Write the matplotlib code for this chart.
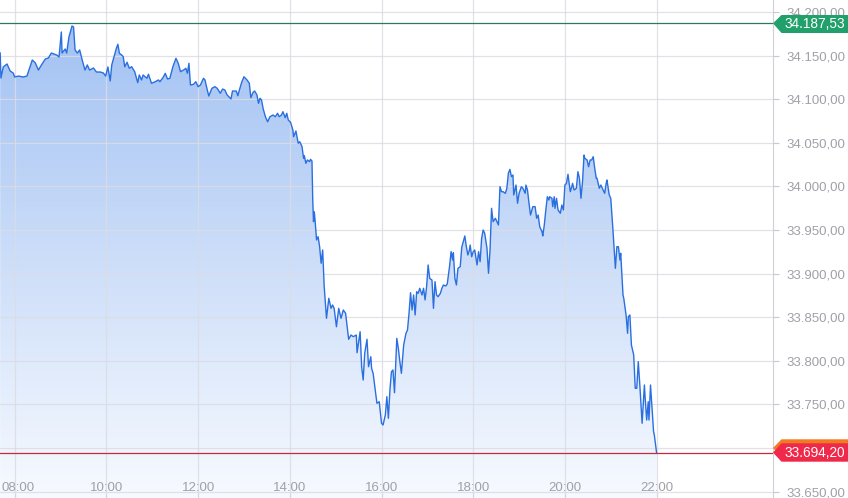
import numpy as np
import matplotlib
matplotlib.use("Agg")
import matplotlib.pyplot as plt
from matplotlib.patches import Polygon
from matplotlib.transforms import blended_transform_factory

plt.rcParams["font.family"] = ["Liberation Sans", "DejaVu Sans"]

# intraday index level, minutes after 08:00 -> price
minutes = [
    -19, -18, -15, -10, -6, -2, 0, 5, 11, 16, 20, 23, 27, 31, 35, 40, 44, 48, 55, 58,
    61, 62, 66, 68, 71, 75, 77, 79, 82, 85, 89, 92, 95, 98, 103, 107, 112, 116, 119, 122, 125,
    127, 130, 133, 135, 137, 140, 142, 144, 147, 150, 153, 157, 161, 163, 166, 168, 173, 175,
    179, 184, 188, 190, 194, 197, 200, 203, 207, 211, 214, 217, 221, 224, 226, 228, 230, 234,
    237, 240, 243, 247, 249, 252, 254, 258, 262, 265, 269,
    272, 275, 278, 283, 285, 290, 292, 294, 297, 300, 304, 307, 309, 312, 314, 317, 319, 321,
    323, 325, 328, 331, 334, 338, 341, 344, 346, 349, 351, 354, 356, 358, 361, 364, 365, 368,
    371, 373, 376, 378, 379, 381, 383, 386, 387, 389,
    390, 391, 392, 393, 395, 397, 399, 401, 403, 405, 408, 411, 414, 416, 418, 421, 424, 427,
    430, 433, 435, 437, 440, 443, 447, 448, 452, 454, 456, 458, 461, 463, 464, 466, 467, 469,
    471, 474, 477, 480, 482, 485, 487, 489, 491, 493, 495, 497, 500, 502, 504, 506, 509, 512,
    514, 516, 518, 520, 522, 524, 526, 528, 530, 533, 535, 537, 539, 541, 543, 546, 548, 550,
    552, 554, 557,
    559, 561, 564, 566, 569, 571, 573, 574, 576, 578, 580, 583, 585, 587, 589, 591, 593, 595,
    596, 598, 600, 602, 605, 607, 609, 611, 613, 615, 618, 620, 622, 624, 626, 629, 631, 633,
    635, 637, 639, 642, 644, 646, 648, 650, 652, 653, 656, 658, 660, 663, 665, 668, 669, 671,
    673, 675, 678, 681, 683, 685, 687, 690, 691, 693, 695, 697, 699, 700,
    703, 704, 706, 707, 709, 711, 714, 716, 718, 720, 722, 724, 727, 729, 730, 732, 735, 737,
    739, 741, 743, 745, 746, 749, 751, 753, 755, 757, 759, 761, 762, 765, 767, 769, 772, 774,
    775, 778, 780, 782, 783, 786, 788, 790, 792, 793, 796, 797, 800, 802, 803, 805, 807, 810,
    812, 814, 816, 818, 821, 824, 825, 827, 829, 830, 832, 834, 836, 837, 840,
]
prices = [
    34153.0, 34124.3, 34137.0, 34140.4, 34132.4, 34130.1, 34125.5, 34126.6, 34125.5, 34126.6,
    34137.0, 34145.0, 34141.6, 34133.5, 34139.3, 34146.1, 34147.3, 34153.0, 34150.7, 34148.4,
    34177.1, 34153.0, 34157.6, 34153.0, 34171.4, 34184.0, 34182.8, 34156.5, 34153.0, 34156.5,
    34142.7, 34133.5, 34139.3, 34133.5, 34135.8, 34131.2, 34131.2, 34130.1, 34126.6, 34137.0,
    34121.0,
    34139.3, 34148.8, 34158.4, 34163.0, 34152.7, 34150.7, 34148.8, 34137.3, 34142.4, 34135.5,
    34137.3, 34131.6, 34119.0, 34127.8, 34122.1, 34127.8, 34124.0, 34128.6, 34118.3, 34120.1,
    34122.1, 34120.1, 34124.7, 34129.7, 34123.2, 34124.0, 34137.3, 34146.9, 34141.2, 34131.6,
    34133.5, 34135.5, 34129.7, 34141.2, 34116.3, 34117.1, 34120.1, 34114.4, 34116.3, 34124.0,
    34122.1, 34110.6, 34103.7, 34112.5, 34114.4, 34112.5, 34106.8,
    34111.7, 34110.6, 34104.9, 34100.3, 34109.4, 34109.4, 34104.0, 34110.6, 34119.4, 34125.8,
    34122.1, 34118.3, 34101.8, 34108.0, 34109.4, 34104.9, 34095.3, 34101.1, 34099.1, 34089.6,
    34080.0, 34074.2, 34080.0, 34081.9, 34080.0, 34083.9, 34080.0, 34081.9, 34085.7, 34078.8,
    34083.9, 34076.2, 34073.5, 34064.7, 34057.0, 34063.6, 34049.5, 34051.3, 34045.6, 34032.3,
    34035.2, 34026.5, 34030.3, 34028.4, 34031.1, 34029.2,
    33984.4, 33959.6, 33971.0, 33961.5, 33938.6, 33942.4, 33930.9, 33911.9, 33927.1, 33885.0,
    33848.8, 33871.7, 33860.2, 33864.0, 33860.2, 33839.1, 33860.2, 33848.8, 33858.3, 33854.5,
    33839.1, 33824.7, 33829.6, 33827.7, 33829.6, 33809.3, 33833.4, 33793.3, 33778.0, 33808.6,
    33824.7, 33793.3, 33797.2, 33804.7, 33791.4, 33785.7, 33772.3, 33751.3, 33753.1, 33728.4,
    33726.4, 33737.9, 33758.9, 33734.1, 33766.5, 33787.5, 33789.5, 33763.4, 33825.8, 33814.4,
    33799.0, 33785.7, 33818.2, 33831.6, 33835.4, 33854.5, 33878.1, 33858.3, 33875.5, 33852.6,
    33879.3, 33877.4, 33883.2, 33875.5, 33883.2, 33869.8, 33885.0, 33909.9, 33894.6, 33892.7,
    33860.2, 33890.8, 33875.5, 33873.5, 33877.4,
    33883.2, 33887.0, 33885.8, 33888.1, 33908.0, 33925.2, 33915.6, 33924.0, 33894.6, 33887.0,
    33906.1, 33908.0, 33930.2, 33936.6, 33943.2, 33930.9, 33921.4, 33927.1, 33932.8, 33919.4,
    33925.2, 33927.1, 33909.9, 33925.2, 33913.7, 33940.5, 33950.0, 33946.3, 33929.1, 33900.4,
    33927.1, 33974.9, 33959.6, 33963.5, 33959.6, 33955.8, 33999.7, 33994.0, 33994.0, 33992.1,
    33997.9, 34015.1, 34019.6, 34011.2, 34013.1, 33990.2, 34001.6, 33980.7, 33992.1, 33999.7,
    33997.9, 33992.1, 34001.6, 33995.9, 33980.7, 33967.2, 33976.8, 33976.8, 33963.5, 33967.2,
    33953.8, 33948.1, 33943.2, 33955.8, 33973.0, 33988.2, 33984.4, 33988.2,
    33986.4, 33976.8, 33988.2, 33974.9, 33986.4, 33973.0, 33969.2, 33978.7, 33973.0, 34001.6,
    34003.6, 34013.9, 33994.0, 33999.7, 34003.6, 33995.9, 33997.9, 34016.9, 34009.3, 33986.4,
    34005.4, 34036.0, 34032.3, 34030.3, 34022.6, 34030.3, 34030.3, 34034.1, 34020.8, 34009.3,
    34009.3, 33997.9, 34001.6, 33997.9, 33992.1, 34003.6, 34007.4, 33990.2, 33986.4, 33961.5,
    33948.1, 33906.1, 33930.9, 33930.9, 33915.6, 33923.3, 33875.5, 33871.7, 33852.6, 33831.6,
    33850.6, 33852.6, 33818.2, 33806.7, 33768.5, 33768.5, 33799.0, 33772.3, 33728.4, 33772.3,
    33757.0, 33732.1, 33753.1, 33732.1, 33772.3, 33745.6, 33718.7, 33714.9, 33694.2,
]

high_price = 34187.53
last_price = 33694.20
x_hours = [8, 10, 12, 14, 16, 18, 20, 22]
x_labels = ["08:00", "10:00", "12:00", "14:00", "16:00", "18:00", "20:00", "22:00"]
y_ticks = [34200, 34150, 34100, 34050, 34000, 33950, 33900, 33850, 33800, 33750, 33700, 33650]
hidden_y = [33700]  # sits under the last-price tag

W, H = 848, 498
XLO, XHI = 7.6793, 24.538
YLO, YHI = 33642.7, 34213.8

GRID = "#dcdce3"
LABEL = "#a0a0a8"


def de_fmt(v):
    return f"{v:,.2f}".replace(",", "X").replace(".", ",").replace("X", ".")


def fx(x, y):
    # pixel coords -> figure fraction
    return (x / W, 1 - y / H)


fig = plt.figure(figsize=(W / 100, H / 100), dpi=100)
fig.patch.set_facecolor("white")
ax = fig.add_axes([0, 0, 773 / W, 1])
ax.set_facecolor("white")

hours = 8 + np.array(minutes) / 60.0
vals = np.array(prices)

# gradient area under the line
poly = ax.fill_between(hours, vals, YLO, facecolor="none", edgecolor="none")
top = np.array([158, 191, 242]) / 255
bot = np.array([247, 250, 255]) / 255
t = np.linspace(0, 1, 256).reshape(-1, 1, 1)
img = bot + (top - bot) * t
im = ax.imshow(img, extent=[XLO, XHI, YLO, YHI], aspect="auto", origin="lower", zorder=1)
im.set_clip_path(poly.get_paths()[0], transform=ax.transData)

for v in y_ticks:
    ax.axhline(v, color=GRID, lw=0.9, zorder=2, alpha=0.85)
for h in x_hours:
    ax.axvline(h, color=GRID, lw=0.9, zorder=2, alpha=0.85)

ax.plot(hours, vals, color="#2a6fe0", lw=1.0, zorder=3)

ax.axhline(high_price, color="#2b7a58", lw=0.9, zorder=4)
ax.axhline(last_price, color="#c8283c", lw=0.9, zorder=4)

ax.set_xlim(XLO, XHI)
ax.set_ylim(YLO, YHI)

for s in ("top", "left", "bottom"):
    ax.spines[s].set_visible(False)
ax.spines["right"].set_color("#d0d0d8")
ax.spines["right"].set_linewidth(0.8)

ax.yaxis.tick_right()
ax.set_yticks(y_ticks)
ax.set_yticklabels(["" if v in hidden_y else de_fmt(v) for v in y_ticks])
ax.tick_params(axis="y", length=4, width=0.8, color="#c8c8d0", pad=6,
               labelsize=9.5, labelcolor=LABEL)

ax.set_xticks(x_hours)
ax.tick_params(axis="x", direction="in", length=3.5, width=0.8, color="#c8c8d0",
               labelbottom=False)

trans = blended_transform_factory(ax.transData, ax.transAxes)
for i, (h, lab) in enumerate(zip(x_hours, x_labels)):
    dx = 3 if i == 0 else 0
    ax.annotate(lab, (h, 0.02), xycoords=trans, xytext=(dx, 0), textcoords="offset pixels",
                ha="center", va="center", fontsize=9.5, color=LABEL, zorder=5)


# price tags on the right
def tag(y_tip, y_top, y_bot, color, z):
    pts = [fx(773, y_tip), fx(781.5, y_top), fx(848, y_top), fx(848, y_bot), fx(781.5, y_bot)]
    fig.add_artist(Polygon(pts, closed=True, transform=fig.transFigure,
                           facecolor=color, edgecolor="none", zorder=z))


tag(23.3, 15, 33, "#22a06b", 5)
fig.text(*fx(814.5, 24), de_fmt(high_price), color="white", fontsize=9.8,
         ha="center", va="center", zorder=7)

tag(448, 439.3, 457, "#f27a22", 5)
tag(452.5, 443.3, 461.7, "#f0284a", 6)
fig.text(*fx(814.5, 452.8), de_fmt(last_price), color="white", fontsize=9.8,
         ha="center", va="center", zorder=7)

fig.savefig("out.png", dpi=100, facecolor="white")
